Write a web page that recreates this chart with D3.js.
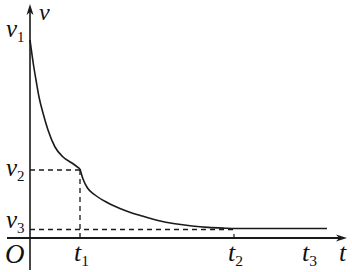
<!DOCTYPE html>
<html lang="en">
<head>
  <meta charset="UTF-8">
  <title>v-t</title>
  <script src="https://d3js.org/d3.v7.min.js"></script>
  <style>
    html, body { margin: 0; padding: 0; background: #fff; }
    svg { display: block; }
  </style>
</head>
<body>
  <div id="chart"></div>
  <script>
    // time marks and speed levels
    const timeNames = ["1", "2", "3"];
    const timeValues = [1, 4.08, 5.56];
    const speedNames = ["1", "2", "3"];
    const speedValues = [19.8, 6.8, 0.95];

    // the curve (kink at t1)
    const curveT = [0, 0.07, 0.12, 0.18, 0.26, 0.36, 0.5, 0.66, 0.84, 1.0,
                    1.06, 1.15, 1.3, 1.56, 1.9, 2.24, 2.56, 2.9, 3.24, 3.56, 3.9, 4.08, 5.94];
    const curveV = [19.8, 17.3, 15.8, 14.1, 12.5, 10.8, 9.1, 8.1, 7.5, 6.9,
                    5.9, 5.0, 4.3, 3.5, 2.75, 2.2, 1.75, 1.42, 1.2, 1.06, 0.98, 0.95, 0.95];

    const width = 352, height = 272;
    const serif = "'Liberation Serif', 'Times New Roman', Times, 'DejaVu Serif', serif";

    const x = d3.scaleLinear().domain([0, 6.34]).range([30, 347]);
    const y = d3.scaleLinear().domain([0, 23.4]).range([238, 4]);

    const svg = d3.select("#chart").append("svg")
      .attr("width", width)
      .attr("height", height);

    const ink = "#1a1a1a";

    // axes
    svg.append("line")
      .attr("x1", 7).attr("x2", x(6.34) - 6)
      .attr("y1", y(0)).attr("y2", y(0))
      .attr("stroke", ink).attr("stroke-width", 1.8);
    svg.append("line")
      .attr("x1", x(0)).attr("x2", x(0))
      .attr("y1", 270).attr("y2", y(23.4) + 6)
      .attr("stroke", ink).attr("stroke-width", 1.6);

    // arrow heads
    svg.append("path")
      .attr("d", `M${x(6.34)},${y(0)} L${x(6.34) - 11},${y(0) - 3.5} L${x(6.34) - 8},${y(0)} L${x(6.34) - 11},${y(0) + 3.5} Z`)
      .attr("fill", ink);
    svg.append("path")
      .attr("d", `M${x(0)},${y(23.4)} L${x(0) - 3.5},${y(23.4) + 11} L${x(0)},${y(23.4) + 8} L${x(0) + 3.5},${y(23.4) + 11} Z`)
      .attr("fill", ink);

    // tick at t2
    svg.append("line")
      .attr("x1", x(timeValues[1])).attr("x2", x(timeValues[1]))
      .attr("y1", y(0)).attr("y2", y(0) - 4)
      .attr("stroke", ink).attr("stroke-width", 1.2);

    // dashed guides
    const dash = "5,4";
    svg.append("line")
      .attr("x1", x(0)).attr("x2", x(timeValues[0]))
      .attr("y1", y(speedValues[1])).attr("y2", y(speedValues[1]))
      .attr("stroke", ink).attr("stroke-width", 1.3).attr("stroke-dasharray", dash);
    svg.append("line")
      .attr("x1", x(timeValues[0])).attr("x2", x(timeValues[0]))
      .attr("y1", y(speedValues[1])).attr("y2", y(0))
      .attr("stroke", ink).attr("stroke-width", 1.3).attr("stroke-dasharray", dash);
    svg.append("line")
      .attr("x1", x(0)).attr("x2", x(timeValues[1]))
      .attr("y1", y(speedValues[2]) + 1).attr("y2", y(speedValues[2]) + 1)
      .attr("stroke", ink).attr("stroke-width", 1.3).attr("stroke-dasharray", dash);

    // curve: two pieces with a kink at t1
    const line = d3.line().x(d => x(d[0])).y(d => y(d[1])).curve(d3.curveMonotoneX);
    const pts = curveT.map((t, i) => [t, curveV[i]]);
    const k = curveT.indexOf(timeValues[0]);
    [pts.slice(0, k + 1), pts.slice(k)].forEach(seg => {
      svg.append("path")
        .attr("d", line(seg))
        .attr("fill", "none")
        .attr("stroke", ink)
        .attr("stroke-width", 1.6);
    });

    // labels
    function label(px, py, main, sub, size) {
      const t = svg.append("text")
        .attr("x", px).attr("y", py)
        .attr("font-family", serif)
        .attr("font-style", "italic")
        .attr("font-size", size)
        .attr("fill", "#111");
      t.append("tspan").text(main);
      if (sub) {
        t.append("tspan")
          .attr("font-style", "normal")
          .attr("font-size", size * 0.6).attr("dy", size * 0.2).text(sub);
      }
    }

    label(39, 20, "v", null, 24);
    label(6, y(speedValues[0]) - 3, "v", speedNames[0], 25);
    label(6, y(speedValues[1]) + 6, "v", speedNames[1], 25);
    label(6, y(speedValues[2]) - 1, "v", speedNames[2], 25);
    label(5, 263, "O", null, 27);
    timeValues.forEach((t, i) => {
      label(x(t) - 6, 261, "t", timeNames[i], 26);
    });
    label(339, 261, "t", null, 26);
  </script>
</body>
</html>
